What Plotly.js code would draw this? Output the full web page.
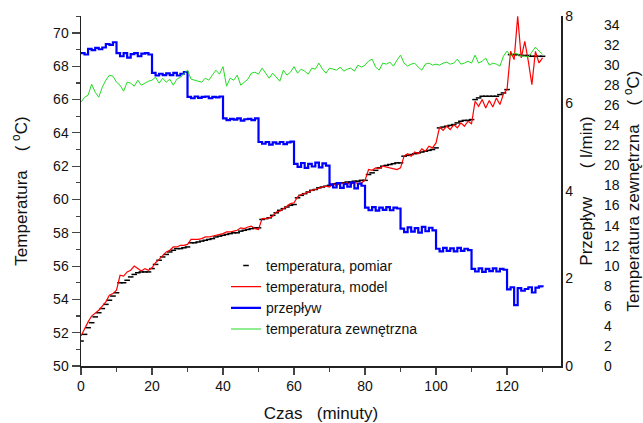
<!DOCTYPE html>
<html>
<head>
<meta charset="utf-8">
<script src="https://cdn.plot.ly/plotly-3.0.1.min.js"></script>
<style>html,body{margin:0;padding:0;background:#fff;}#chart{width:643px;height:423px;}</style>
</head>
<body>
<div id="chart"></div>
<script>
// time in minutes
const minutes = [0,1,2,3,4,5,6,7,8,9,10,11,12,13,14,15,16,17,18,19,20,21,22,23,24,25,26,27,28,29,30,
31,32,33,34,35,36,37,38,39,40,41,42,43,44,45,46,47,48,49,50,51,52,53,54,55,56,57,58,59,60,
61,62,63,64,65,66,67,68,69,70,71,72,73,74,75,76,77,78,79,80,81,82,83,84,85,86,87,88,89,90,
91,92,93,94,95,96,97,98,99,100,101,102,103,104,105,106,107,108,109,110,111,112,113,114,115,116,117,118,119,120,
121,122,123,124,125,126,127,128,129,130];

// temperatura, pomiar (°C)
const tempPomiar = [51.5,51.9,52.3,52.6,52.95,53.2,53.45,53.7,53.95,54.2,54.4,
55.0,55.0,55.15,55.35,55.5,55.6,55.65,55.65,55.65,55.85,
56.1,56.35,56.55,56.7,56.85,56.95,57.05,57.05,57.1,57.15,
57.4,57.4,57.45,57.5,57.55,57.6,57.65,57.75,57.8,57.85,
57.9,57.95,58.0,58.0,58.1,58.15,58.2,58.25,58.3,58.3,
58.8,58.85,58.9,59.05,59.2,59.35,59.45,59.55,59.65,59.7,
60.1,60.25,60.35,60.45,60.55,60.6,60.7,60.75,60.8,60.85,
60.9,60.95,61.0,61.0,61.05,61.05,61.1,61.1,61.15,61.15,
61.5,61.6,61.75,61.9,62.0,62.05,62.1,62.15,62.2,62.2,
62.6,62.65,62.7,62.75,62.8,62.85,62.9,62.95,63.0,63.1,
64.3,64.35,64.4,64.45,64.5,64.6,64.7,64.75,64.75,64.8,
66.0,66.1,66.2,66.2,66.2,66.2,66.2,66.3,66.4,66.6,
68.7,68.7,68.7,68.65,68.65,68.65,68.6,68.6,68.6,68.6];

// temperatura, model (°C)
const tempModel = [51.8,52.25,52.65,53.0,53.15,53.35,53.6,53.85,54.25,54.35,54.55,
55.45,55.4,55.65,55.75,56.0,55.85,55.7,55.85,55.75,55.9,
56.2,56.4,56.65,56.85,56.95,57.15,57.15,57.25,57.25,57.3,
57.6,57.6,57.6,57.65,57.75,57.75,57.8,57.85,57.9,57.95,
58.05,58.05,58.1,58.15,58.3,58.25,58.35,58.4,58.25,58.2,
58.85,58.85,58.9,59.0,59.25,59.3,59.45,59.6,59.75,59.8,
60.15,60.3,60.35,60.45,60.55,60.6,60.7,60.75,60.8,60.75,
60.95,60.85,61.0,60.95,61.0,60.9,61.05,60.95,61.0,61.15,
61.8,61.75,61.9,61.85,62.0,61.95,61.9,61.85,61.8,61.9,
62.6,62.75,62.6,62.85,62.75,63.05,62.9,63.2,63.1,63.4,
64.35,64.15,64.4,64.2,64.5,64.3,64.6,64.4,64.7,64.55,
65.9,65.6,66.0,65.5,65.95,65.55,66.1,65.7,66.35,66.6,
68.9,68.4,71.0,68.5,69.5,68.3,66.9,68.9,68.2,68.5];

// przepływ (l/min)
const przeplyw = [7.15,7.12,7.25,7.22,7.27,7.24,7.28,7.36,7.34,7.4,
7.15,7.08,7.15,7.05,7.13,7.15,7.08,7.14,7.15,7.12,
6.70,6.64,6.68,6.65,6.69,6.65,6.70,6.64,6.68,6.72,
6.15,6.12,6.16,6.13,6.15,6.16,6.12,6.15,6.14,6.16,
5.66,5.62,5.65,5.63,5.66,5.61,5.64,5.65,5.62,5.66,
5.12,5.08,5.12,5.06,5.11,5.08,5.12,5.07,5.11,5.13,
4.62,4.55,4.64,4.53,4.62,4.56,4.65,4.54,4.63,4.58,
4.15,4.08,4.18,4.07,4.16,4.10,4.19,4.06,4.17,4.12,
3.62,3.56,3.63,3.55,3.62,3.57,3.63,3.56,3.62,3.60,
3.14,3.06,3.17,3.07,3.15,3.05,3.18,3.08,3.16,3.10,
2.68,2.62,2.70,2.63,2.69,2.62,2.70,2.63,2.68,2.65,
2.22,2.16,2.23,2.15,2.22,2.17,2.23,2.16,2.22,2.20,
1.75,1.80,1.39,1.78,1.72,1.76,1.80,1.68,1.79,1.82,1.80];

// temperatura zewnętrzna (°C)
const tempZewn = [26.3,26.8,27.0,28.1,27.3,26.8,27.8,28.5,29.0,28.9,28.3,
28.0,27.4,28.3,28.2,27.9,28.5,28.0,28.2,28.4,28.5,
28.8,28.2,28.7,28.3,28.6,28.0,28.6,28.8,29.2,29.5,
28.6,28.5,28.4,28.3,28.7,28.5,29.0,29.5,29.1,29.85,
27.9,28.7,28.5,29.0,28.0,28.3,28.6,29.2,29.3,29.1,
29.7,29.2,28.7,29.2,28.8,28.4,29.5,29.0,29.3,29.85,
29.2,29.6,29.4,29.1,29.7,29.6,30.2,29.6,29.2,29.7,
29.6,29.5,29.8,29.4,29.6,29.7,29.4,30.0,29.8,30.0,
30.4,30.6,29.8,29.5,30.2,30.1,30.3,29.9,30.5,31.0,
30.2,29.9,30.1,30.2,29.8,29.5,30.1,30.2,30.0,30.1,
30.0,30.2,30.3,30.1,30.2,30.6,30.1,30.2,30.4,30.2,
31.0,30.2,30.4,30.7,30.0,30.2,30.1,29.9,30.9,31.4,
30.9,31.2,31.1,30.9,30.9,30.8,31.3,31.8,31.4,31.1];

const seriesNames = ['temperatura, pomiar','temperatura, model','przepływ','temperatura zewnętrzna'];

const FONT = 'Liberation Sans, Arial, sans-serif';
const NB = '\u00a0';

const traces = [
  {x: minutes, y: tempPomiar, name: seriesNames[0], type: 'scatter', mode: 'markers',
   marker: {symbol: 'line-ew', size: 4, color: '#000', line: {color: '#000', width: 1.5}}, yaxis: 'y'},
  {x: minutes, y: tempModel, name: seriesNames[1], type: 'scatter', mode: 'lines',
   line: {color: '#ff0000', width: 1.2}, yaxis: 'y'},
  {x: minutes, y: przeplyw, name: seriesNames[2], type: 'scatter', mode: 'lines',
   line: {color: '#0000ff', width: 2.2, shape: 'hv'}, yaxis: 'y2'},
  {x: minutes, y: tempZewn, name: seriesNames[3], type: 'scatter', mode: 'lines',
   line: {color: '#22dd22', width: 1}, yaxis: 'y3'}
];

const tickFont = {family: FONT, size: 14, color: '#111'};
const titleFont = {family: FONT, size: 17, color: '#111'};

// plot area: x 81..561 px, y 16..366 px; margin right 0 so the free third axis fits in paper space
const PLOT_W = 643 - 81;
const layout = {
  width: 643, height: 423,
  margin: {l: 81, r: 0, t: 16, b: 57},
  paper_bgcolor: '#fff', plot_bgcolor: 'rgba(0,0,0,0)',
  font: {family: FONT, size: 14, color: '#111'},
  showlegend: true,
  legend: {x: (226 - 81) / PLOT_W, y: 0.332, xanchor: 'left', yanchor: 'top', bgcolor: 'rgba(0,0,0,0)',
           font: {family: FONT, size: 14, color: '#111'}, itemwidth: 30},
  xaxis: {
    domain: [0, 480 / PLOT_W],
    range: [0, 135.2], tickvals: [0,20,40,60,80,100,120], ticks: 'outside', ticklen: 7, tickwidth: 1.2,
    minor: {dtick: 10, tick0: 0, ticklen: 4, ticks: 'outside', tickwidth: 1.2, showgrid: false},
    showline: true, linecolor: '#222', linewidth: 1.5, showgrid: false, zeroline: false,
    tickfont: tickFont, title: {text: 'Czas' + NB+NB+NB + '(minuty)', font: titleFont, standoff: 14}
  },
  yaxis: {
    range: [50, 71.02], dtick: 2, tick0: 50, ticks: 'outside', ticklen: 8, tickwidth: 1.2,
    minor: {dtick: 1, tick0: 50, ticklen: 4, ticks: 'outside', tickwidth: 1.2, showgrid: false},
    showline: true, linecolor: '#222', linewidth: 1.5, showgrid: false, zeroline: false,
    tickfont: tickFont,
    title: {text: 'Temperatura' + NB+NB+NB+NB + '(' + NB + '<sup>o</sup>C)', font: titleFont, standoff: 21}
  },
  yaxis2: {
    overlaying: 'y', side: 'right', anchor: 'x', range: [0, 8], dtick: 2, tick0: 0,
    ticks: '', showline: true, linecolor: '#222', linewidth: 1.5, showgrid: false, zeroline: false,
    tickfont: tickFont,
    title: {text: 'Przepływ' + NB.repeat(6) + '(' + NB + 'l/min)' + NB.repeat(9), font: titleFont, standoff: 8}
  },
  yaxis3: {
    overlaying: 'y', side: 'right', anchor: 'free', position: (603 - 81) / PLOT_W, range: [0, 34.9], dtick: 2, tick0: 0,
    ticks: '', showline: false, showgrid: false, zeroline: false,
    tickfont: tickFont,
    title: {text: 'Temperatura zewnętrzna' + NB.repeat(4) + '(' + NB + '<sup>o</sup>C)' + NB.repeat(8), font: titleFont, standoff: 9}
  }
};

Plotly.newPlot('chart', traces, layout, {displayModeBar: false, staticPlot: true});
</script>
</body>
</html>
